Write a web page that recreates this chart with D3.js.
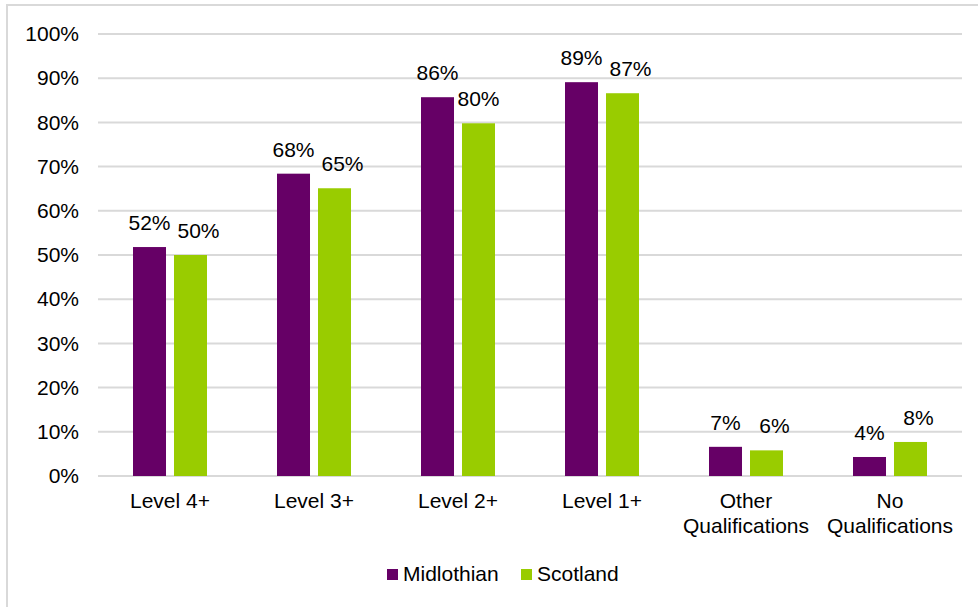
<!DOCTYPE html>
<html>
<head>
<meta charset="utf-8">
<script src="https://cdn.jsdelivr.net/npm/d3@7"></script>
<style>
  html, body { margin: 0; padding: 0; background: #fff; }
  svg { display: block; font-family: "Liberation Sans", Arial, sans-serif; }
</style>
</head>
<body>
<svg id="chart" width="978" height="607"></svg>
<script>
// Highest qualification level reached, share of population (%)
const categories = [["Level 4+"], ["Level 3+"], ["Level 2+"], ["Level 1+"], ["Other", "Qualifications"], ["No", "Qualifications"]];
const seriesNames = ["Midlothian", "Scotland"];
const midlothian = [51.8, 68.4, 85.7, 89.1, 6.6, 4.3];
const scotland = [50.0, 65.1, 79.8, 86.6, 5.8, 7.7];
const yTicks = [0, 10, 20, 30, 40, 50, 60, 70, 80, 90, 100];
const colors = ["#660066", "#99cc00"];

const svg = d3.select("#chart");
const W = 978, H = 607;
const FS = 21;
const plot = { left: 98, right: 962, top: 34, bottom: 476 };

// Light chart frame
svg.append("rect")
  .attr("x", 7).attr("y", 5)
  .attr("width", W).attr("height", H)
  .attr("fill", "none").attr("stroke", "#d9d9d9").attr("stroke-width", 2);

const catKeys = categories.map(c => c.join(" "));
const x0 = d3.scaleBand().domain(catKeys).range([plot.left, plot.right]).padding(0);
const x1 = d3.scaleBand().domain(seriesNames).range([35, 109]).paddingInner(0.195).paddingOuter(0);
const y = d3.scaleLinear().domain([0, 100]).range([plot.bottom, plot.top]);

// Horizontal gridlines
svg.append("g").selectAll("line").data(yTicks).join("line")
  .attr("x1", plot.left).attr("x2", plot.right)
  .attr("y1", d => y(d)).attr("y2", d => y(d))
  .attr("stroke", "#d9d9d9").attr("stroke-width", 2);

// Y axis labels
const yAxis = d3.axisLeft(y).tickValues(yTicks).tickFormat(d => d + "%").tickSize(0).tickPadding(0);
const yg = svg.append("g").attr("transform", `translate(79,0)`).call(yAxis);
yg.select(".domain").remove();
yg.selectAll("text").attr("font-size", FS).attr("fill", "#000")
  .attr("font-family", "Liberation Sans, Arial, sans-serif");

// Bars
const rows = catKeys.map((k, i) => ({ key: k, values: [midlothian[i], scotland[i]] }));
const groups = svg.append("g").selectAll("g").data(rows).join("g")
  .attr("transform", d => `translate(${x0(d.key)},0)`);

groups.selectAll("rect").data(d => d.values.map((v, j) => ({ s: seriesNames[j], v, j }))).join("rect")
  .attr("x", d => x1(d.s))
  .attr("width", x1.bandwidth())
  .attr("y", d => y(d.v))
  .attr("height", d => y(0) - y(d.v))
  .attr("fill", d => colors[d.j]);

// Value labels; the second label is nudged right when the pair would collide
groups.selectAll("text.val").data(d => d.values.map((v, j) => {
    const close = Math.abs(y(d.values[0]) - y(d.values[1])) < 20;
    return { s: seriesNames[j], v, dx: (j === 1 && close) ? 8 : 0 };
  })).join("text")
  .attr("class", "val")
  .attr("x", d => x1(d.s) + x1.bandwidth() / 2 + d.dx)
  .attr("y", d => y(d.v) - 17)
  .attr("text-anchor", "middle")
  .attr("font-size", FS).attr("fill", "#000")
  .text(d => Math.round(d.v) + "%");

// Category labels (possibly two lines)
const catG = svg.append("g").selectAll("text").data(categories).join("text")
  .attr("x", (d, i) => x0(catKeys[i]) + x0.bandwidth() / 2)
  .attr("y", 508)
  .attr("text-anchor", "middle")
  .attr("font-size", FS).attr("fill", "#000");
catG.selectAll("tspan").data(d => d).join("tspan")
  .attr("x", function () { return d3.select(this.parentNode).attr("x"); })
  .attr("dy", (d, i) => i === 0 ? 0 : 25)
  .text(d => d);

// Legend
const legend = svg.append("g");
const legendItems = [{ name: seriesNames[0], x: 387 }, { name: seriesNames[1], x: 521 }];
legendItems.forEach((it, i) => {
  legend.append("rect").attr("x", it.x).attr("y", 569).attr("width", 11).attr("height", 11).attr("fill", colors[i]);
  legend.append("text").attr("x", it.x + 16).attr("y", 581)
    .attr("font-size", FS).attr("fill", "#000").text(it.name);
});
</script>
</body>
</html>
